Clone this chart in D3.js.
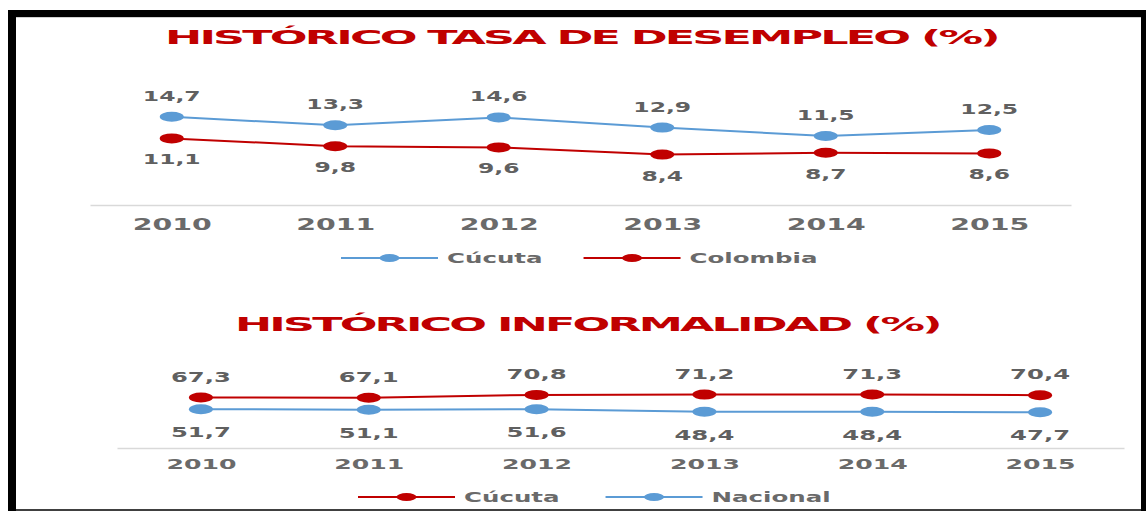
<!DOCTYPE html>
<html>
<head>
<meta charset="utf-8">
<script src="https://cdn.jsdelivr.net/npm/d3@7"></script>
<style>
  body { margin: 0; background: #fff; }
  text { font-family: "DejaVu Sans", sans-serif; font-weight: bold; }
</style>
</head>
<body>
<div id="chart"></div>
<script>
// data
var years = ["2010", "2011", "2012", "2013", "2014", "2015"];
var desempleoCucuta = [14.7, 13.3, 14.6, 12.9, 11.5, 12.5];
var desempleoColombia = [11.1, 9.8, 9.6, 8.4, 8.7, 8.6];
var informalidadCucuta = [67.3, 67.1, 70.8, 71.2, 71.3, 70.4];
var informalidadNacional = [51.7, 51.1, 51.6, 48.4, 48.4, 47.7];

var w = 1146, h = 511;
var blue = "#5b9bd5", red = "#c00000", grey = "#606060";
var sx = 1.7; // the picture is stretched sideways

var svg = d3.select("#chart").append("svg")
    .attr("width", w)
    .attr("height", h);

// frame
svg.append("rect").attr("x", 8).attr("y", 10).attr("width", 1138).attr("height", 7).attr("fill", "#000");
svg.append("rect").attr("x", 8).attr("y", 10).attr("width", 8).attr("height", 501).attr("fill", "#000");
svg.append("rect").attr("x", 1141).attr("y", 10).attr("width", 5).attr("height", 501).attr("fill", "#000");
svg.append("rect").attr("x", 16).attr("y", 17).attr("width", 1125).attr("height", 1).attr("fill", "#d0d0d0");
svg.append("rect").attr("x", 16).attr("y", 509).attr("width", 1125).attr("height", 2).attr("fill", "#404040");

function fmt(v) { return String(v).replace(".", ","); }

function drawChart(cfg) {
    var g = svg.append("g");

    // title, stretched to the width it has in the picture
    var title = g.append("text")
        .attr("font-size", 19)
        .attr("letter-spacing", -1.2)
        .attr("fill", red)
        .text(cfg.title);
    var tw = title.node().getComputedTextLength();
    title.attr("transform", "translate(" + cfg.titleX + "," + cfg.titleY + ") scale(" + (cfg.titleW / tw) + ",1)");

    var x = d3.scalePoint().domain(years).range(cfg.xRange).padding(0.5);
    var y = d3.scaleLinear().domain(cfg.yDomain).range([cfg.axisY, cfg.yTop]);

    var axis = g.append("g")
        .attr("transform", "translate(0," + cfg.axisY + ")")
        .call(d3.axisBottom(x).tickSize(0));
    axis.select(".domain").attr("stroke", "#d9d9d9").attr("stroke-width", 1.5);
    axis.selectAll("text")
        .attr("dy", null)
        .attr("y", cfg.yearDy)
        .attr("transform", "scale(" + sx + ",1)")
        .attr("font-size", cfg.yearSize)
        .attr("font-family", "DejaVu Sans")
        .attr("font-weight", "bold")
        .attr("fill", "#6a6a6a");

    var line = d3.line()
        .x(function (d, i) { return x(years[i]); })
        .y(function (d) { return y(d); });

    cfg.series.forEach(function (s) {
        g.append("path")
            .datum(s.values)
            .attr("d", line)
            .attr("fill", "none")
            .attr("stroke", s.color)
            .attr("stroke-width", 2);

        g.selectAll(null)
            .data(s.values)
            .enter()
            .append("ellipse")
            .attr("cx", function (d, i) { return x(years[i]); })
            .attr("cy", function (d) { return y(d); })
            .attr("rx", 12)
            .attr("ry", 5)
            .attr("fill", s.color);

        g.selectAll(null)
            .data(s.values)
            .enter()
            .append("text")
            .attr("transform", function (d, i) {
                return "translate(" + x(years[i]) + "," + (y(d) + s.labelDy) + ") scale(" + sx + ",1)";
            })
            .attr("text-anchor", "middle")
            .attr("font-size", cfg.labelSize)
            .attr("fill", grey)
            .text(function (d) { return fmt(d); });
    });

    // legend
    var lx = cfg.legendX;
    cfg.series.forEach(function (s) {
        g.append("line")
            .attr("x1", lx).attr("x2", lx + 97)
            .attr("y1", cfg.legendY).attr("y2", cfg.legendY)
            .attr("stroke", s.color).attr("stroke-width", 2);
        g.append("ellipse")
            .attr("cx", lx + 48.5).attr("cy", cfg.legendY)
            .attr("rx", 10).attr("ry", 4)
            .attr("fill", s.color);
        var t = g.append("text")
            .attr("transform", "translate(" + (lx + 106) + "," + (cfg.legendY + 5) + ") scale(" + sx + ",1)")
            .attr("font-size", 14.4)
            .attr("fill", "#6a6a6a")
            .text(s.name);
        lx = lx + 106 + t.node().getComputedTextLength() * sx + cfg.legendGap;
    });
}

drawChart({
    title: "HISTÓRICO TASA DE DESEMPLEO (%)",
    titleX: 165, titleY: 44, titleW: 833,
    xRange: [90, 1071],
    axisY: 205, yTop: 109, yDomain: [0, 16],
    yearDy: 25, yearSize: 16.7, labelSize: 13.8,
    legendX: 341, legendY: 258, legendGap: 41,
    series: [
        { name: "Cúcuta", values: desempleoCucuta, color: blue, labelDy: -16 },
        { name: "Colombia", values: desempleoColombia, color: red, labelDy: 26 }
    ]
});

drawChart({
    title: "HISTÓRICO INFORMALIDAD (%)",
    titleX: 235, titleY: 331, titleW: 705,
    xRange: [117, 1124],
    axisY: 448, yTop: 388, yDomain: [0, 80],
    yearDy: 21, yearSize: 14.8, labelSize: 14.3,
    legendX: 358, legendY: 497, legendGap: 46,
    series: [
        { name: "Cúcuta", values: informalidadCucuta, color: red, labelDy: -16 },
        { name: "Nacional", values: informalidadNacional, color: blue, labelDy: 28 }
    ]
});
</script>
</body>
</html>
